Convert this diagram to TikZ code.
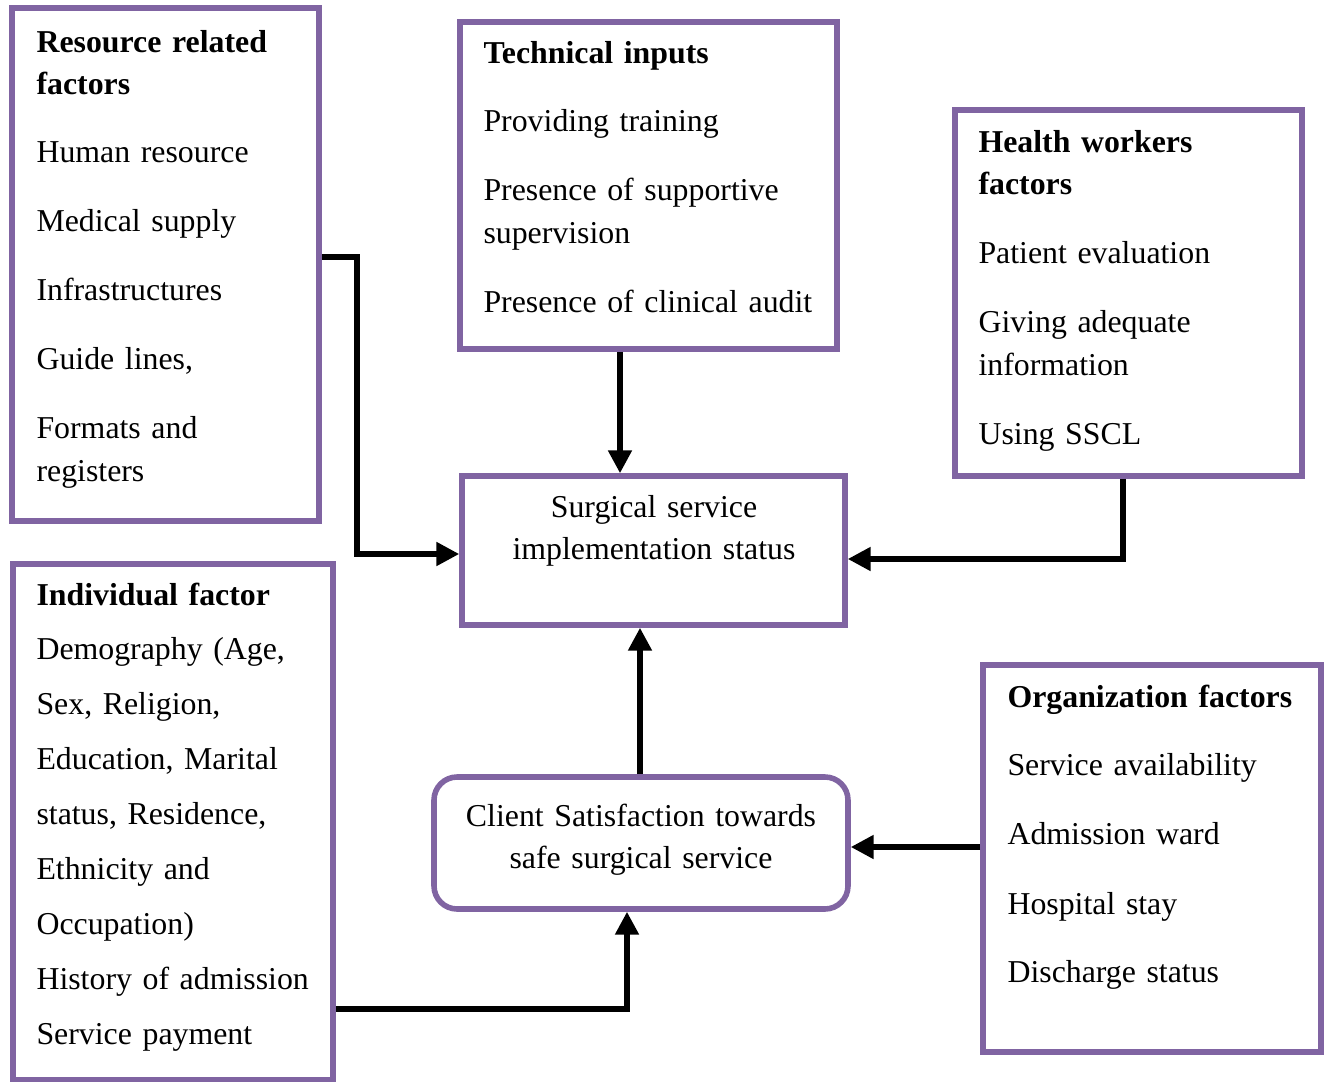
\documentclass[tikz,border=0pt]{standalone}
\usepackage{fontspec}
\setmainfont{Liberation Serif}[WordSpace=0.75]
\usetikzlibrary{arrows.meta,fit}

\definecolor{boxpurple}{HTML}{8064A2}

\tikzset{
	box/.style={draw=boxpurple, line width=2.1pt, rectangle, inner sep=0pt},
	txt/.style={anchor=base west, align=left, inner sep=0pt,
		font=\fontsize{12}{16.2}\selectfont},
	ctxt/.style={anchor=base, align=center, inner sep=0pt,
		font=\fontsize{12}{16}\selectfont},
	arr/.style={line width=2pt, -{Triangle[length=8.6pt,width=8.6pt]}},
}

\begin{document}
\begin{tikzpicture}[x=0.377pt,y=-0.377pt]
\useasboundingbox (0,0) rectangle (1327,1082);

%% BOXES
\node[box, fit={(12,8) (319,521)}] (res) {};
\node[box, fit={(460,22) (837,349)}] (tech) {};
\node[box, fit={(955,110) (1302,476)}] (hw) {};
\node[box, fit={(462,476) (845,625)}] (surg) {};
\node[box, fit={(13,564) (333,1080)}] (ind) {};
\node[box, rounded corners=8.7pt, fit={(434,777) (848,909)}] (cs) {};
\node[box, fit={(983,665) (1321,1052)}] (org) {};

% RESOURCE
\node[txt, text width=110pt] (resT) at (36,52) {
	\textbf{Resource related}\\
	\textbf{factors}\\[9.4pt]
	Human resource\\[9.8pt]
	Medical supply\\[9.8pt]
	Infrastructures\\[9.8pt]
	Guide lines,\\[9.8pt]
	Formats and\\
	registers
};

% TECHNICAL
\node[txt, text width=130pt] (techT) at (483,63) {
	\textbf{Technical inputs}\\[9.8pt]
	Providing training\\[9.5pt]
	Presence of supportive\\
	supervision\\[9.8pt]
	Presence of clinical audit
};

% HEALTH WORKERS
\node[txt, text width=118pt] (hwT) at (978,152) {
	\textbf{Health workers}\\
	\textbf{factors}\\[9.8pt]
	Patient evaluation\\[9.8pt]
	Giving adequate\\
	information\\[9.8pt]
	Using SSCL
};

% INDIVIDUAL
\node[txt, text width=112pt, font=\fontsize{12}{20.7}\selectfont] (indT) at (36,605) {
	\textbf{Individual factor}\\
	Demography (Age,\\
	Sex, Religion,\\
	Education, Marital\\
	status, Residence,\\
	Ethnicity and\\
	Occupation)\\
	History of admission\\
	Service payment
};

% ORGANIZATION
\node[txt, text width=115pt] (orgT) at (1007,707) {
	\textbf{Organization factors}\\[9.8pt]
	Service availability\\[9.8pt]
	Admission ward\\[10.2pt]
	Hospital stay\\[9.4pt]
	Discharge status
};

% CENTRE
\node[ctxt, text width=140pt] (surgT) at (654,517) {Surgical service\\implementation status};
\node[ctxt, text width=150pt] (csT) at (641,826) {Client Satisfaction towards\\safe surgical service};

%% ARROWS
\draw[arr] (res.east |- 0,257) -- (357,257) |- (surg.west |- 0,554);
\draw[arr] (tech.south -| 620,0) -- (surg.north -| 620,0);
\draw[arr] (hw.south -| 1123,0) |- (surg.east |- 0,559);
\draw[arr] (cs.north -| 640,0) -- (surg.south -| 640,0);
\draw[arr] (org.west |- 0,847) -- (cs.east |- 0,847);
\draw[arr] (ind.east |- 0,1009) -| (cs.south -| 627,0);
\end{tikzpicture}
\end{document}
